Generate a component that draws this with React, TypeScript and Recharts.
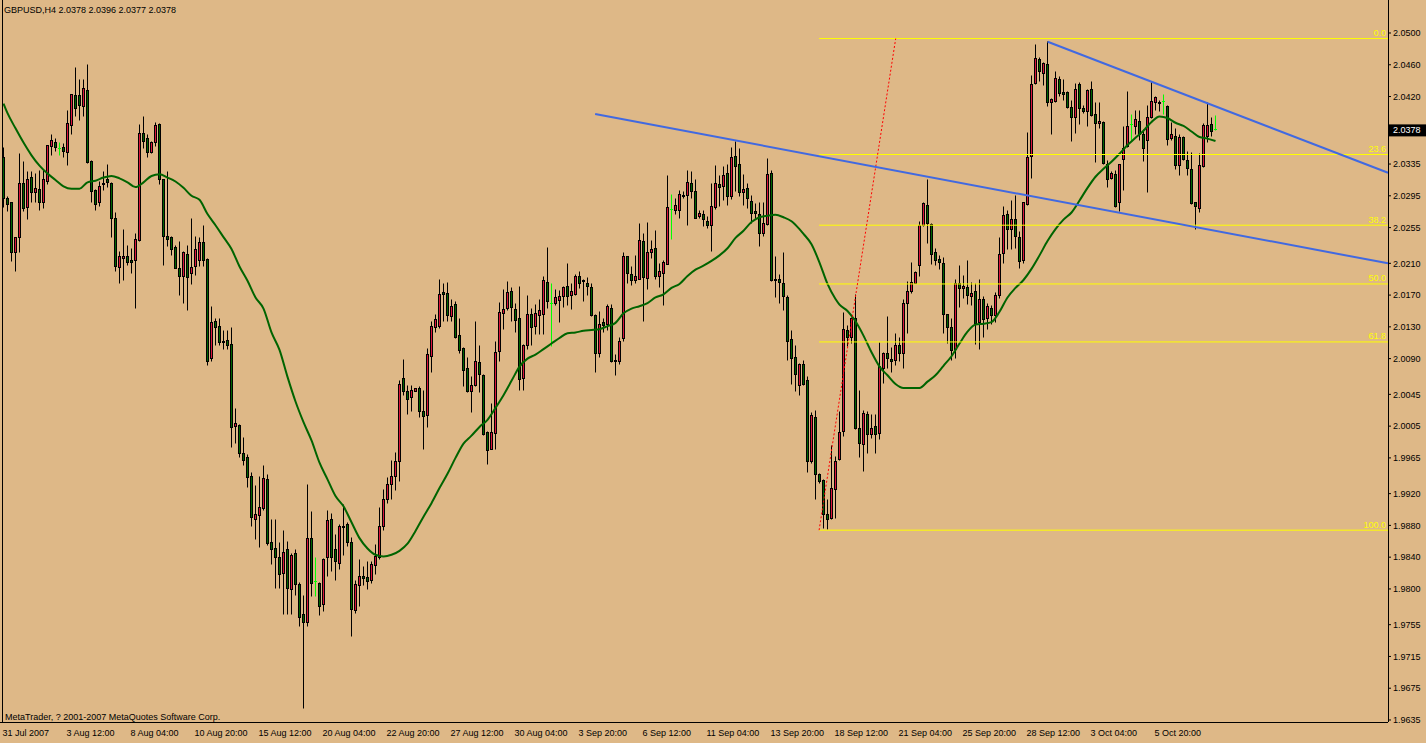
import React from "react"
import { ComposedChart, Bar, Line, XAxis, YAxis, ReferenceLine } from "recharts"

// GBPUSD H4 candles (bar 0 = 31 Jul 2007 20:00)
const OPEN = [
  2.0343, 2.0292, 2.0286, 2.0223, 2.0242, 2.0311, 2.0280, 2.0318, 2.0299, 2.0303,
  2.0286, 2.0313, 2.0357, 2.0362, 2.0355, 2.0356, 2.0350, 2.0383, 2.0421, 2.0421,
  2.0407, 2.0428, 2.0338, 2.0302, 2.0286, 2.0311, 2.0315, 2.0311, 2.0266, 2.0205,
  2.0216, 2.0218, 2.0213, 2.0214, 2.0239, 2.0373, 2.0367, 2.0349, 2.0362, 2.0385,
  2.0315, 2.0244, 2.0242, 2.0230, 2.0204, 2.0193, 2.0221, 2.0197, 2.0206, 2.0214,
  2.0236, 2.0215, 2.0090, 2.0137, 2.0130, 2.0112, 2.0113, 2.0108, 2.0004, 2.0006,
  1.9971, 1.9966, 1.9942, 1.9888, 1.9893, 1.9901, 1.9938, 1.9859, 1.9851, 1.9840,
  1.9820, 1.9850, 1.9799, 1.9844, 1.9805, 1.9768, 1.9758, 1.9863, 1.9809, 1.9807,
  1.9781, 1.9839, 1.9888, 1.9850, 1.9832, 1.9879, 1.9881, 1.9858, 1.9773, 1.9804,
  1.9816, 1.9815, 1.9810, 1.9829, 1.9840, 1.9878, 1.9913, 1.9931, 1.9941, 1.9960,
  2.0065, 2.0049, 2.0041, 2.0049, 2.0052, 2.0024, 2.0018, 2.0093, 2.0129, 2.0130,
  2.0173, 2.0172, 2.0143, 2.0158, 2.0119, 2.0103, 2.0077, 2.0048, 2.0056, 2.0085,
  2.0069, 1.9997, 1.9976, 1.9996, 2.0099, 2.0147, 2.0153, 2.0174, 2.0152, 2.0140,
  2.0065, 2.0106, 2.0145, 2.0130, 2.0144, 2.0145, 2.0186, 2.0160, 2.0159, 2.0163,
  2.0168, 2.0181, 2.0169, 2.0171, 2.0194, 2.0188, 2.0185, 2.0180, 2.0144, 2.0097,
  2.0136, 2.0133, 2.0153, 2.0088, 2.0087, 2.0115, 2.0218, 2.0196, 2.0188, 2.0190,
  2.0238, 2.0191, 2.0223, 2.0229, 2.0194, 2.0197, 2.0209, 2.0278, 2.0276, 2.0276,
  2.0296, 2.0296, 2.0310, 2.0301, 2.0269, 2.0272, 2.0263, 2.0257, 2.0280, 2.0309,
  2.0307, 2.0323, 2.0294, 2.0345, 2.0334, 2.0299, 2.0304, 2.0288, 2.0275, 2.0272,
  2.0248, 2.0259, 2.0323, 2.0189, 2.0189, 2.0185, 2.0167, 2.0114, 2.0091, 2.0056,
  2.0083, 2.0062, 1.9960, 2.0016, 1.9944, 1.9937, 1.9894, 1.9889, 1.9925, 1.9963,
  1.9998, 2.0126, 2.0116, 2.0141, 2.0002, 1.9982, 2.0020, 1.9994, 2.0004, 1.9996,
  2.0078, 2.0097, 2.0089, 2.0088, 2.0107, 2.0097, 2.0159, 2.0174, 2.0185, 2.0207,
  2.0257, 2.0283, 2.0259, 2.0223, 2.0215, 2.0210, 2.0145, 2.0129, 2.0102, 2.0184,
  2.0178, 2.0179, 2.0168, 2.0174, 2.0135, 2.0164, 2.0140, 2.0153, 2.0144, 2.0169,
  2.0222, 2.0271, 2.0253, 2.0265, 2.0243, 2.0213, 2.0284, 2.0344, 2.0437, 2.0467,
  2.0449, 2.0460, 2.0413, 2.0414, 2.0442, 2.0425, 2.0425, 2.0406, 2.0393, 2.0435,
  2.0405, 2.0401, 2.0429, 2.0398, 2.0386, 2.0387, 2.0335, 2.0317, 2.0322, 2.0286,
  2.0341, 2.0357, 2.0385, 2.0382, 2.0389, 2.0372, 2.0365, 2.0393, 2.0412, 2.0412,
  2.0414, 2.0408, 2.0367, 2.0370, 2.0333, 2.0369, 2.0340, 2.0328, 2.0286, 2.0279,
  2.0332, 2.0370, 2.0385, 2.0378,
]

const HIGH = [
  2.0356, 2.0294, 2.0287, 2.0242, 2.0348, 2.0338, 2.0325, 2.0325, 2.0323, 2.0327,
  2.0327, 2.0358, 2.0372, 2.0367, 2.0362, 2.0361, 2.0403, 2.0423, 2.0457, 2.0441,
  2.0441, 2.0460, 2.0339, 2.0303, 2.0313, 2.0325, 2.0334, 2.0312, 2.0274, 2.0225,
  2.0253, 2.0233, 2.0229, 2.0247, 2.0385, 2.0395, 2.0372, 2.0363, 2.0387, 2.0386,
  2.0316, 2.0325, 2.0244, 2.0233, 2.0237, 2.0225, 2.0232, 2.0266, 2.0244, 2.0242,
  2.0257, 2.0216, 2.0155, 2.0140, 2.0141, 2.0126, 2.0125, 2.0129, 2.0027, 2.0007,
  1.9991, 1.9969, 1.9946, 1.9930, 1.9941, 1.9956, 1.9944, 1.9887, 1.9888, 1.9859,
  1.9873, 1.9860, 1.9845, 1.9850, 1.9808, 1.9792, 1.9932, 1.9898, 1.9839, 1.9808,
  1.9838, 1.9899, 1.9895, 1.9869, 1.9881, 1.9906, 1.9884, 1.9865, 1.9811, 1.9837,
  1.9828, 1.9834, 1.9834, 1.9856, 1.9902, 1.9925, 1.9940, 1.9962, 1.9972, 2.0062,
  2.0089, 2.0056, 2.0056, 2.0053, 2.0055, 2.0050, 2.0103, 2.0137, 2.0146, 2.0189,
  2.0184, 2.0186, 2.0165, 2.0162, 2.0141, 2.0104, 2.0091, 2.0068, 2.0137, 2.0107,
  2.0070, 1.9998, 2.0034, 2.0112, 2.0161, 2.0177, 2.0187, 2.0179, 2.0160, 2.0181,
  2.0108, 2.0170, 2.0153, 2.0158, 2.0165, 2.0194, 2.0230, 2.0184, 2.0177, 2.0176,
  2.0181, 2.0210, 2.0184, 2.0196, 2.0200, 2.0189, 2.0192, 2.0184, 2.0145, 2.0149,
  2.0141, 2.0158, 2.0158, 2.0095, 2.0116, 2.0223, 2.0219, 2.0206, 2.0220, 2.0260,
  2.0247, 2.0262, 2.0239, 2.0251, 2.0210, 2.0214, 2.0320, 2.0297, 2.0292, 2.0302,
  2.0300, 2.0327, 2.0325, 2.0315, 2.0277, 2.0276, 2.0269, 2.0310, 2.0333, 2.0320,
  2.0332, 2.0334, 2.0356, 2.0363, 2.0355, 2.0322, 2.0310, 2.0296, 2.0285, 2.0286,
  2.0286, 2.0342, 2.0327, 2.0218, 2.0196, 2.0223, 2.0169, 2.0126, 2.0107, 2.0084,
  2.0088, 2.0068, 2.0022, 2.0025, 1.9945, 1.9938, 1.9912, 1.9980, 1.9967, 2.0024,
  2.0148, 2.0132, 2.0142, 2.0171, 2.0050, 2.0025, 2.0024, 2.0020, 2.0020, 2.0110,
  2.0098, 2.0143, 2.0104, 2.0122, 2.0116, 2.0165, 2.0187, 2.0211, 2.0200, 2.0263,
  2.0286, 2.0316, 2.0260, 2.0229, 2.0220, 2.0217, 2.0146, 2.0141, 2.0189, 2.0207,
  2.0195, 2.0213, 2.0186, 2.0185, 2.0189, 2.0168, 2.0159, 2.0157, 2.0173, 2.0242,
  2.0281, 2.0276, 2.0289, 2.0295, 2.0250, 2.0287, 2.0375, 2.0446, 2.0485, 2.0469,
  2.0463, 2.0489, 2.0417, 2.0452, 2.0445, 2.0441, 2.0426, 2.0415, 2.0436, 2.0438,
  2.0409, 2.0429, 2.0439, 2.0412, 2.0412, 2.0388, 2.0340, 2.0325, 2.0327, 2.0335,
  2.0382, 2.0426, 2.0398, 2.0402, 2.0402, 2.0378, 2.0409, 2.0439, 2.0420, 2.0415,
  2.0423, 2.0409, 2.0387, 2.0380, 2.0372, 2.0370, 2.0351, 2.0349, 2.0287, 2.0348,
  2.0386, 2.0412, 2.0394, 2.0396,
]

const LOW = [
  2.0280, 2.0275, 2.0212, 2.0200, 2.0223, 2.0275, 2.0265, 2.0286, 2.0286, 2.0277,
  2.0279, 2.0309, 2.0346, 2.0351, 2.0346, 2.0343, 2.0333, 2.0372, 2.0395, 2.0390,
  2.0395, 2.0336, 2.0286, 2.0276, 2.0281, 2.0302, 2.0306, 2.0242, 2.0200, 2.0185,
  2.0188, 2.0207, 2.0197, 2.0153, 2.0237, 2.0354, 2.0343, 2.0348, 2.0357, 2.0309,
  2.0207, 2.0231, 2.0220, 2.0203, 2.0169, 2.0160, 2.0150, 2.0183, 2.0195, 2.0206,
  2.0206, 2.0081, 2.0087, 2.0106, 2.0107, 2.0102, 2.0102, 1.9978, 1.9983, 1.9965,
  1.9956, 1.9928, 1.9878, 1.9862, 1.9852, 1.9899, 1.9855, 1.9831, 1.9800, 1.9801,
  1.9768, 1.9768, 1.9768, 1.9792, 1.9753, 1.9650, 1.9753, 1.9790, 1.9790, 1.9766,
  1.9771, 1.9816, 1.9822, 1.9811, 1.9825, 1.9842, 1.9853, 1.9740, 1.9769, 1.9778,
  1.9804, 1.9799, 1.9807, 1.9818, 1.9837, 1.9873, 1.9908, 1.9913, 1.9924, 1.9935,
  2.0044, 2.0020, 2.0023, 2.0048, 2.0016, 1.9975, 2.0003, 2.0072, 2.0123, 2.0128,
  2.0137, 2.0137, 2.0137, 2.0115, 2.0097, 2.0055, 2.0047, 2.0022, 2.0055, 2.0047,
  1.9993, 1.9957, 1.9975, 1.9975, 2.0087, 2.0127, 2.0151, 2.0137, 2.0123, 2.0050,
  2.0050, 2.0101, 2.0107, 2.0120, 2.0120, 2.0120, 2.0153, 2.0105, 2.0157, 2.0135,
  2.0154, 2.0157, 2.0152, 2.0170, 2.0178, 2.0162, 2.0170, 2.0143, 2.0072, 2.0091,
  2.0123, 2.0125, 2.0085, 2.0069, 2.0082, 2.0111, 2.0184, 2.0182, 2.0184, 2.0189,
  2.0137, 2.0177, 2.0216, 2.0190, 2.0179, 2.0157, 2.0208, 2.0240, 2.0271, 2.0267,
  2.0292, 2.0257, 2.0292, 2.0266, 2.0267, 2.0256, 2.0254, 2.0225, 2.0278, 2.0281,
  2.0289, 2.0283, 2.0290, 2.0301, 2.0294, 2.0283, 2.0279, 2.0260, 2.0266, 2.0231,
  2.0244, 2.0258, 2.0187, 2.0167, 2.0160, 2.0150, 2.0088, 2.0057, 2.0048, 2.0044,
  2.0056, 1.9946, 1.9958, 1.9913, 1.9933, 1.9876, 1.9875, 1.9887, 1.9889, 1.9962,
  1.9992, 2.0105, 2.0109, 2.0001, 1.9965, 1.9948, 1.9971, 1.9990, 1.9971, 1.9988,
  2.0059, 2.0078, 2.0072, 2.0081, 2.0086, 2.0078, 2.0122, 2.0172, 2.0184, 2.0194,
  2.0256, 2.0235, 2.0209, 2.0207, 2.0202, 2.0122, 2.0109, 2.0088, 2.0090, 2.0154,
  2.0166, 2.0158, 2.0157, 2.0108, 2.0102, 2.0117, 2.0127, 2.0133, 2.0135, 2.0166,
  2.0210, 2.0227, 2.0227, 2.0229, 2.0203, 2.0210, 2.0283, 2.0317, 2.0435, 2.0439,
  2.0434, 2.0408, 2.0372, 2.0412, 2.0420, 2.0415, 2.0405, 2.0364, 2.0374, 2.0385,
  2.0399, 2.0382, 2.0395, 2.0337, 2.0380, 2.0335, 2.0306, 2.0315, 2.0280, 2.0275,
  2.0302, 2.0356, 2.0363, 2.0372, 2.0365, 2.0338, 2.0299, 2.0392, 2.0403, 2.0401,
  2.0397, 2.0358, 2.0365, 2.0328, 2.0321, 2.0340, 2.0321, 2.0284, 2.0252, 2.0274,
  2.0331, 2.0362, 2.0370, 2.0377,
]

const CLOSE = [
  2.0291, 2.0284, 2.0223, 2.0242, 2.0310, 2.0279, 2.0315, 2.0299, 2.0304, 2.0286,
  2.0315, 2.0358, 2.0365, 2.0356, 2.0355, 2.0351, 2.0386, 2.0423, 2.0405, 2.0409,
  2.0430, 2.0337, 2.0300, 2.0284, 2.0307, 2.0309, 2.0312, 2.0267, 2.0206, 2.0218,
  2.0219, 2.0211, 2.0211, 2.0240, 2.0374, 2.0364, 2.0349, 2.0362, 2.0384, 2.0316,
  2.0244, 2.0240, 2.0228, 2.0204, 2.0194, 2.0223, 2.0192, 2.0205, 2.0228, 2.0236,
  2.0213, 2.0087, 2.0136, 2.0129, 2.0110, 2.0111, 2.0106, 2.0003, 2.0008, 1.9971,
  1.9962, 1.9940, 1.9890, 1.9894, 1.9903, 1.9939, 1.9857, 1.9850, 1.9839, 1.9818,
  1.9846, 1.9800, 1.9842, 1.9806, 1.9764, 1.9758, 1.9864, 1.9807, 1.9809, 1.9778,
  1.9837, 1.9886, 1.9839, 1.9834, 1.9878, 1.9878, 1.9858, 1.9774, 1.9806, 1.9816,
  1.9813, 1.9809, 1.9831, 1.9841, 1.9879, 1.9913, 1.9932, 1.9942, 1.9960, 2.0057,
  2.0048, 2.0039, 2.0050, 2.0053, 2.0023, 2.0017, 2.0095, 2.0131, 2.0139, 2.0171,
  2.0171, 2.0144, 2.0156, 2.0116, 2.0100, 2.0075, 2.0048, 2.0056, 2.0087, 2.0070,
  1.9995, 1.9974, 1.9997, 2.0098, 2.0148, 2.0152, 2.0173, 2.0154, 2.0138, 2.0064,
  2.0107, 2.0146, 2.0129, 2.0147, 2.0150, 2.0188, 2.0162, 2.0160, 2.0167, 2.0168,
  2.0180, 2.0168, 2.0174, 2.0194, 2.0184, 2.0187, 2.0181, 2.0144, 2.0097, 2.0133,
  2.0132, 2.0155, 2.0086, 2.0087, 2.0112, 2.0219, 2.0197, 2.0188, 2.0194, 2.0239,
  2.0192, 2.0223, 2.0228, 2.0193, 2.0200, 2.0211, 2.0280, 2.0278, 2.0283, 2.0297,
  2.0294, 2.0312, 2.0301, 2.0267, 2.0273, 2.0265, 2.0257, 2.0281, 2.0310, 2.0306,
  2.0321, 2.0294, 2.0343, 2.0332, 2.0299, 2.0303, 2.0291, 2.0273, 2.0273, 2.0247,
  2.0260, 2.0322, 2.0188, 2.0188, 2.0186, 2.0168, 2.0111, 2.0090, 2.0070, 2.0082,
  2.0057, 1.9960, 2.0018, 1.9944, 1.9935, 1.9894, 1.9888, 1.9926, 1.9961, 1.9997,
  2.0127, 2.0116, 2.0141, 2.0002, 1.9983, 2.0021, 1.9994, 2.0002, 1.9994, 2.0080,
  2.0096, 2.0090, 2.0086, 2.0107, 2.0097, 2.0159, 2.0174, 2.0186, 2.0199, 2.0258,
  2.0285, 2.0260, 2.0221, 2.0213, 2.0211, 2.0145, 2.0129, 2.0100, 2.0185, 2.0178,
  2.0181, 2.0169, 2.0172, 2.0134, 2.0165, 2.0139, 2.0155, 2.0144, 2.0169, 2.0221,
  2.0270, 2.0253, 2.0265, 2.0244, 2.0212, 2.0286, 2.0343, 2.0435, 2.0468, 2.0451,
  2.0461, 2.0412, 2.0416, 2.0443, 2.0424, 2.0423, 2.0406, 2.0393, 2.0429, 2.0405,
  2.0401, 2.0428, 2.0396, 2.0386, 2.0389, 2.0336, 2.0316, 2.0323, 2.0281, 2.0334,
  2.0355, 2.0382, 2.0385, 2.0391, 2.0372, 2.0354, 2.0393, 2.0414, 2.0419, 2.0411,
  2.0414, 2.0366, 2.0372, 2.0333, 2.0368, 2.0341, 2.0330, 2.0285, 2.0281, 2.0333,
  2.0383, 2.0384, 2.0376, 2.0378,
]

// moving average, [bar, value] read at sample bars
const MA_LINE: [number, number][] = [
  [0, 2.0411], [1, 2.0399], [3, 2.038], [5, 2.0362], [7, 2.0346], [9, 2.0333], [11, 2.0323],
  [13, 2.0315], [15, 2.0307], [17, 2.0304], [19, 2.0304], [21, 2.0312], [23, 2.0314], [25, 2.0318],
  [27, 2.032], [29, 2.0317], [31, 2.0312], [33, 2.0306], [35, 2.0312], [37, 2.032], [39, 2.0322],
  [41, 2.0318], [43, 2.0313], [45, 2.0305], [47, 2.0295], [49, 2.029], [51, 2.0272], [53, 2.0258],
  [55, 2.0243], [57, 2.0228], [59, 2.0206], [61, 2.0188], [63, 2.0167], [65, 2.0153], [67, 2.0123],
  [69, 2.0101], [71, 2.0067], [73, 2.0036], [75, 2.001], [77, 1.9987], [79, 1.9959], [81, 1.9938],
  [83, 1.9917], [85, 1.9904], [87, 1.9884], [89, 1.9864], [91, 1.9851], [93, 1.9843], [95, 1.9841],
  [97, 1.9843], [99, 1.9848], [101, 1.9857], [103, 1.9873], [105, 1.9891], [107, 1.9908], [109, 1.9927],
  [111, 1.9945], [113, 1.9965], [115, 1.9983], [117, 1.9993], [119, 2.0004], [121, 2.0013], [123, 2.0028],
  [125, 2.0044], [127, 2.0062], [129, 2.008], [131, 2.009], [133, 2.0095], [135, 2.0102], [137, 2.0109],
  [139, 2.0116], [141, 2.0122], [143, 2.0123], [145, 2.0125], [147, 2.0126], [149, 2.0127], [151, 2.0131],
  [153, 2.0135], [155, 2.0147], [157, 2.0153], [159, 2.0156], [161, 2.016], [163, 2.0167], [165, 2.0171],
  [167, 2.0179], [169, 2.0184], [171, 2.0194], [173, 2.0202], [175, 2.0207], [177, 2.0213], [179, 2.022],
  [181, 2.0229], [183, 2.0242], [185, 2.0251], [187, 2.0262], [189, 2.0268], [191, 2.027], [193, 2.0271],
  [195, 2.0268], [197, 2.0263], [199, 2.0253], [200, 2.0247], [202, 2.0234], [204, 2.0211], [206, 2.0184],
  [208, 2.0165], [209, 2.0158], [211, 2.015], [213, 2.0137], [215, 2.0119], [217, 2.0098], [219, 2.008],
  [221, 2.0069], [223, 2.0058], [225, 2.0053], [227, 2.0053], [229, 2.0053], [231, 2.0061], [233, 2.0069],
  [235, 2.0081], [237, 2.0093], [239, 2.0109], [241, 2.0124], [243, 2.0133], [245, 2.0134], [247, 2.0136],
  [249, 2.0149], [251, 2.0167], [253, 2.0179], [255, 2.0189], [257, 2.0203], [259, 2.022], [261, 2.0238],
  [263, 2.0253], [265, 2.0265], [267, 2.0274], [269, 2.0289], [271, 2.0305], [273, 2.0319], [275, 2.0329],
  [277, 2.0338], [279, 2.0348], [281, 2.0359], [283, 2.0368], [285, 2.0377], [287, 2.0388], [289, 2.0395],
  [291, 2.0393], [293, 2.0387], [295, 2.0383], [297, 2.0376], [299, 2.0369], [301, 2.0367], [303, 2.0364],
]

const TIME_TICKS = [0, 16, 32, 48, 64, 80, 96, 112, 128, 144, 160, 176, 192, 208, 224, 240, 256, 272, 288]
const TIME_LABELS = [
  "31 Jul 2007", "3 Aug 12:00", "8 Aug 04:00", "10 Aug 20:00", "15 Aug 12:00", "20 Aug 04:00",
  "22 Aug 20:00", "27 Aug 12:00", "30 Aug 04:00", "3 Sep 20:00", "6 Sep 12:00", "11 Sep 04:00",
  "13 Sep 20:00", "18 Sep 12:00", "21 Sep 04:00", "25 Sep 20:00", "28 Sep 12:00", "3 Oct 04:00",
  "5 Oct 20:00",
]

const PRICE_TICKS = [
  2.05, 2.046, 2.042, 2.0335, 2.0295, 2.0255, 2.021, 2.017, 2.013, 2.009, 2.0045,
  2.0005, 1.9965, 1.992, 1.988, 1.984, 1.98, 1.9755, 1.9715, 1.9675, 1.9635,
]

const LAST_PRICE = 2.0378

// Fibonacci retracement levels drawn from the 1.9874 low to the 2.0493 high
const FIB_PRICES = [2.0493, 2.0347, 2.0258, 2.0184, 2.0111, 1.9874]
const FIB_LABELS = ["0.0", "23.6", "38.2", "50.0", "61.8", "100.0"]
const FIB_START = 203.9
const FIB_ANCHORS = [{ x: 203.9, y: 1.9874 }, { x: 223.05, y: 2.0493 }]

const TREND_LINES = [
  { from: { x: 147.9, y: 2.0398 }, to: 2.021 },
  { from: { x: 261.05, y: 2.0489 }, to: 2.0324 },
]

const BG = "#DEB887"
const BULL = "#DC143C"
const BEAR = "#006400"
const DOJI = "#00FF00"
const FONT = "'Liberation Sans', Arial, sans-serif"

const PLOT_W = 1388
const PLOT_H = 722
const X_MIN = -0.875
const X_MAX = X_MIN + PLOT_W / 4
const Y_DOMAIN: [number, number] = [1.963246, 2.054155]

const maLookup = new Map(MA_LINE)
const rows = OPEN.map((o, i) => ({
  i,
  open: o,
  high: HIGH[i],
  low: LOW[i],
  close: CLOSE[i],
  range: [LOW[i], HIGH[i]],
  ma: maLookup.get(i),
}))

const snap = (v: number) => Math.round(v - 0.5) + 0.5

function Candle(props: any) {
  const { x, y, width, height, payload } = props
  if (!payload || !isFinite(y) || !isFinite(height)) return null
  const cx = Math.floor(x + width / 2) + 0.5
  const { open, high, low, close } = payload
  const toY = (v: number) => y + ((high - v) / (high - low)) * height
  const yTop = snap(y)
  const yBot = snap(y + height)
  const yo = snap(toY(open))
  const yc = snap(toY(close))
  if (open === close) {
    return (
      <g>
        <line x1={cx} x2={cx} y1={yTop} y2={yBot} stroke={DOJI} strokeWidth={1} />
        <line x1={cx - 1.5} x2={cx + 1.5} y1={yo} y2={yo} stroke={DOJI} strokeWidth={1} />
      </g>
    )
  }
  const top = Math.min(yo, yc)
  const bot = Math.max(yo, yc)
  return (
    <g>
      <line x1={cx} x2={cx} y1={yTop} y2={yBot} stroke="#000" strokeWidth={1} />
      <rect
        x={cx - 1}
        y={top}
        width={2}
        height={Math.max(bot - top, 1)}
        fill={close > open ? BULL : BEAR}
        stroke="#000"
        strokeWidth={1}
      />
    </g>
  )
}

function TimeTick(props: any) {
  const { x, payload } = props
  const idx = TIME_TICKS.indexOf(payload.value)
  return (
    <text x={x - 1} y={736} fontSize={9} fontFamily={FONT} fill="#000" textAnchor="start">
      {TIME_LABELS[idx]}
    </text>
  )
}

const fibLabel = (text: string) => (props: any) => {
  const vb = props.viewBox || {}
  const right = (vb.x ?? 0) + (vb.width ?? 0)
  return (
    <text x={right - 2} y={(vb.y ?? 0) - 2.5} fontSize={9} fontFamily={FONT} fill="#FFFF00" textAnchor="end">
      {text}
    </text>
  )
}

const priceBox = (props: any) => {
  const vb = props.viewBox || {}
  const right = (vb.x ?? 0) + (vb.width ?? 0)
  const py = vb.y ?? 0
  return (
    <g>
      <rect x={right} y={py - 5.5} width={38} height={12} fill="#000" />
      <text x={right + 5} y={py + 3.3} fontSize={9} fontFamily={FONT} fill="#fff">
        {LAST_PRICE.toFixed(4)}
      </text>
    </g>
  )
}

export default function App() {
  return (
    <div style={{ position: "absolute", left: 0, top: 0, width: 1426, height: 743, background: BG, overflow: "hidden" }}>
      <ComposedChart width={1426} height={743} data={rows} margin={{ top: 0, right: 0, bottom: 0, left: 0 }}>
        <XAxis
          dataKey="i"
          type="number"
          domain={[X_MIN, X_MAX]}
          allowDataOverflow
          ticks={TIME_TICKS}
          interval={0}
          height={21}
          tick={<TimeTick />}
          tickLine={false}
          axisLine={{ stroke: "#000", shapeRendering: "crispEdges" }}
        />
        <YAxis
          orientation="right"
          type="number"
          domain={Y_DOMAIN}
          allowDataOverflow
          ticks={PRICE_TICKS}
          interval={0}
          width={38}
          tickSize={3}
          tickMargin={2}
          tickFormatter={(v: number) => v.toFixed(4)}
          tick={{ fontSize: 9, fill: "#000", fontFamily: FONT }}
          tickLine={{ stroke: "#000" }}
          axisLine={{ stroke: "#000", shapeRendering: "crispEdges" }}
        />
        <Bar dataKey="range" barSize={4} shape={<Candle />} isAnimationActive={false} />
        <Line
          dataKey="ma"
          type="monotone"
          stroke="#006400"
          strokeWidth={2}
          dot={false}
          activeDot={false}
          connectNulls
          isAnimationActive={false}
        />
        {FIB_PRICES.map((p, k) => (
          <ReferenceLine
            key={"fib" + k}
            segment={[{ x: FIB_START, y: p }, { x: X_MAX, y: p }]}
            stroke="#FFFF00"
            strokeWidth={1}
            ifOverflow="visible"
            label={fibLabel(FIB_LABELS[k])}
          />
        ))}
        <ReferenceLine
          segment={FIB_ANCHORS}
          stroke="#FF0000"
          strokeWidth={1}
          strokeDasharray="2 2"
          ifOverflow="visible"
        />
        {TREND_LINES.map((t, k) => (
          <ReferenceLine
            key={"trend" + k}
            segment={[t.from, { x: X_MAX, y: t.to }]}
            stroke="#4169E1"
            strokeWidth={2}
            ifOverflow="visible"
          />
        ))}
        <ReferenceLine y={LAST_PRICE} stroke="none" ifOverflow="visible" label={priceBox} />
      </ComposedChart>
      <div style={{ position: "absolute", left: 2, top: 0, width: 1, height: PLOT_H, background: "#000" }} />
      <div style={{ position: "absolute", left: 4, top: 6, fontSize: 9, lineHeight: "9px", fontFamily: FONT, color: "#000", whiteSpace: "nowrap" }}>
        GBPUSD,H4 2.0378 2.0396 2.0377 2.0378
      </div>
      <div style={{ position: "absolute", left: 5, top: 713, fontSize: 9, lineHeight: "9px", fontFamily: FONT, color: "#000", whiteSpace: "nowrap" }}>
        MetaTrader, ? 2001-2007 MetaQuotes Software Corp.
      </div>
    </div>
  )
}
